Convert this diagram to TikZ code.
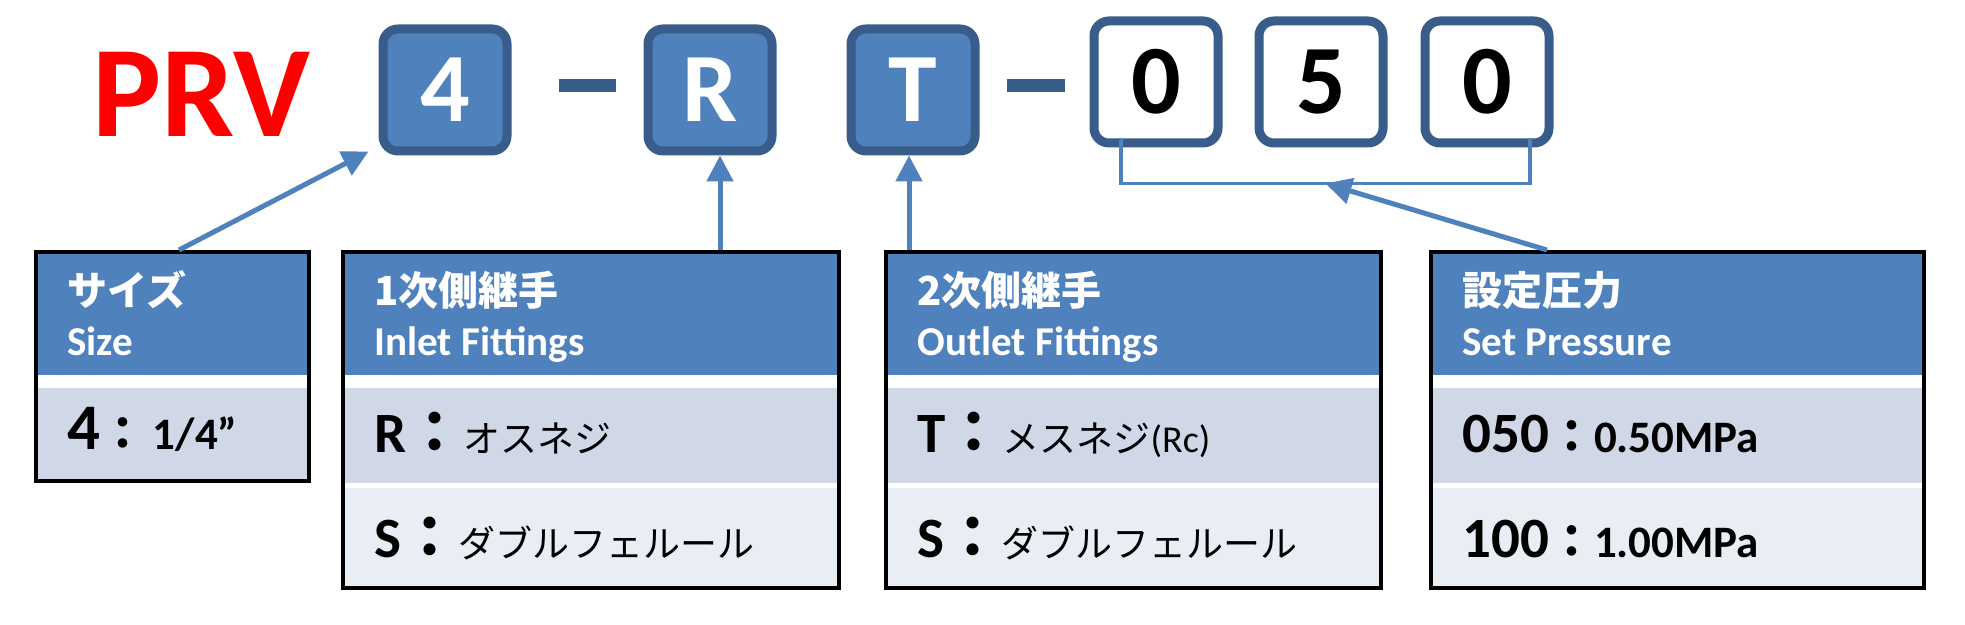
\documentclass[tikz,border=0pt]{standalone}
\usepackage{fontspec}
\setmainfont{Carlito}
\newfontfamily\jp{Noto Sans CJK JP}
\usetikzlibrary{arrows.meta}
\definecolor{headblue}{HTML}{4F81BD}
\definecolor{edgeblue}{HTML}{385D8A}
\definecolor{rowone}{HTML}{D0D8E8}
\definecolor{rowtwo}{HTML}{E9EDF4}
\def\Key#1{{\bfseries\fontsize{28.5}{28.5}\selectfont #1}}
\def\Colon#1{{\jp\bfseries\fontsize{#1}{#1}\selectfont ：}}
\def\Kana#1{{\jp\fontsize{18.5}{18.5}\selectfont #1}}
\def\Val#1{{\bfseries\fontsize{22.5}{22.5}\selectfont #1}}
\def\SpecHead#1#2#3#4#5{% name, left, right, japanese, english
  \fill[headblue] (#2,252) rectangle (#3,375);
  \node[head jp] (#1-jp) at (#2+31,306) {#4};
  \node[head en] (#1-en) at (#2+31,356) {#5};
}
\def\SpecRow#1#2#3#4#5#6#7{% name, left, right, top, bottom, colour, text
  \fill[#6] (#2,#4) rectangle (#3,#5);
  \node[row text] (#1) at (#2+31,#5-31) {#7};
}
\def\SpecFrame#1#2#3#4{% name, left, right, bottom
  \node[frame, minimum width={(#3-#2)*0.5pt}, minimum height={(#4-252)*0.5pt}]
    (#1) at ({(#2+#3)/2},{(252+#4)/2}) {};
}

\begin{document}
\begin{tikzpicture}[x=0.5pt, y=-0.5pt,
  code blue/.style={draw=edgeblue, fill=headblue, line width=4.5pt, rounded corners=7.5pt,
    minimum width=62pt, minimum height=61pt, inner sep=0pt, text=white,
    font=\bfseries\fontsize{49}{49}\selectfont},
  code white/.style={code blue, fill=white, text=black},
  frame/.style={draw=black, line width=2pt, inner sep=0pt},
  head jp/.style={anchor=base west, inner sep=0pt, text=white,
    font=\jp\bfseries\fontsize{20}{20}\selectfont},
  head en/.style={anchor=base west, inner sep=0pt, text=white,
    font=\bfseries\fontsize{20.5}{20.5}\selectfont},
  row text/.style={anchor=base west, inner sep=0pt},
  link/.style={draw=headblue, line width=2.5pt, -{Triangle[length=13pt,width=13pt]}},
  bracket/.style={draw=headblue, line width=1.75pt}]
\useasboundingbox (0,0) rectangle (1965,625);

% model code
\node[anchor=base west, inner sep=0pt, text=red, font=\bfseries\fontsize{65}{65}\selectfont]
  (prv) at (92,137) {PRV};
\node[code blue] (box4) at (445,90) {4};
\fill[edgeblue] (559,79) rectangle (616,92);
\node[code blue] (boxR) at (710,90) {R};
\node[code blue] (boxT) at (913,90) {T};
\fill[edgeblue] (1007,79) rectangle (1065,92);
\node[code white] (z1) at (1156,82) {0};
\node[code white] (z2) at (1321,82) {5};
\node[code white] (z3) at (1487,82) {0};

% tables
\SpecHead{tsize}{36}{309}{サイズ}{Size}
\SpecRow{tsize-a}{36}{309}{388}{481}{rowone}{{\bfseries\fontsize{32.5}{32.5}\selectfont 4}\Colon{22.5}\Val{\,1/4”}}
\SpecFrame{tsize}{36}{309}{481}

\SpecHead{tin}{343}{839}{1次側継手}{Inlet Fittings}
\SpecRow{tin-a}{343}{839}{388}{483}{rowone}{\Key{R}\Colon{28.5}\Kana{オスネジ}}
\SpecRow{tin-b}{343}{839}{488}{588}{rowtwo}{\Key{S}\Colon{28.5}\Kana{ダブルフェルール}}
\SpecFrame{tin}{343}{839}{588}

\SpecHead{tout}{886}{1381}{2次側継手}{Outlet Fittings}
\SpecRow{tout-a}{886}{1381}{388}{483}{rowone}{\Key{T}\Colon{28.5}\Kana{メスネジ}{\fontsize{19}{19}\selectfont(Rc)}}
\SpecRow{tout-b}{886}{1381}{488}{588}{rowtwo}{\Key{S}\Colon{28.5}\Kana{ダブルフェルール}}
\SpecFrame{tout}{886}{1381}{588}

\SpecHead{tset}{1431}{1924}{設定圧力}{Set Pressure}
\SpecRow{tset-a}{1431}{1924}{388}{483}{rowone}{\Key{050}\Colon{22.5}\Val{0.50MPa}}
\SpecRow{tset-b}{1431}{1924}{488}{588}{rowtwo}{\Key{100}\Colon{22.5}\Val{1.00MPa}}
\SpecFrame{tset}{1431}{1924}{588}

% pointers
\draw[link] ([xshift=3.25pt]tsize.north) -- ([shift={(-5pt,2pt)}]box4.south west);
\draw[link] ([xshift=5pt]boxR.south |- tin.north) -- ([xshift=5pt]boxR.south);
\draw[link] ([xshift=-2pt]boxT.south |- tout.north) -- ([xshift=-2pt]boxT.south);
\coordinate (bl) at ([shift={(-17.5pt,4.5pt)}]z1.south);
\coordinate (br) at ([shift={(21.5pt,4.5pt)}]z3.south);
\draw[bracket] (bl) -- ++(0,45) coordinate (bl2) -- coordinate[pos=0.5] (brk) (bl2 -| br) -- (br);
\draw[link] ([xshift=-65.25pt]tset.north) -- (brk);
\end{tikzpicture}
\end{document}
